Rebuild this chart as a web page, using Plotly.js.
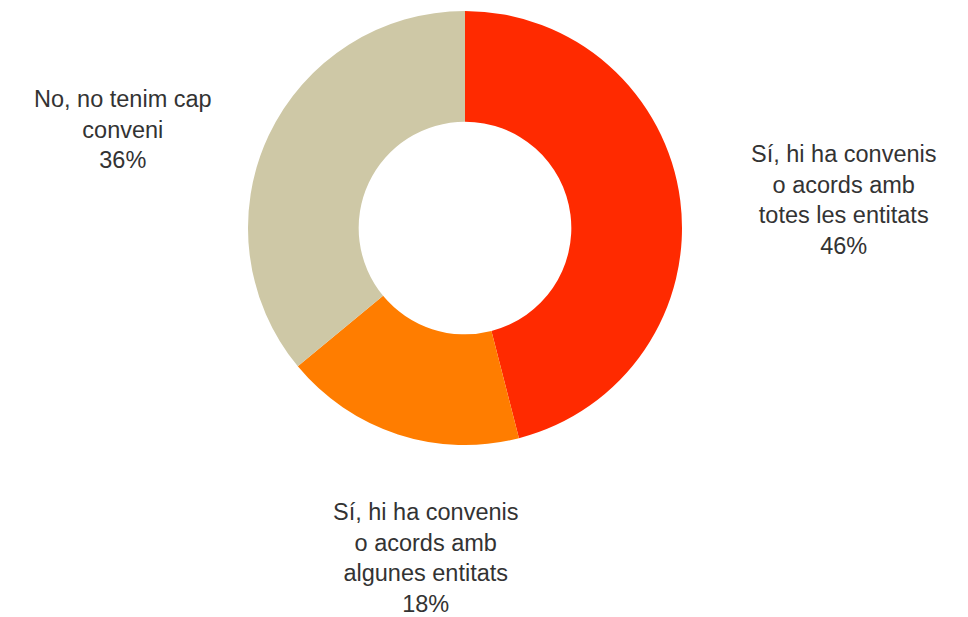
<!DOCTYPE html>
<html><head><meta charset="utf-8">
<script src="https://cdn.plot.ly/plotly-3.0.1.min.js"></script>
<style>html,body{margin:0;padding:0;background:#fff}#chart{width:968px;height:617px}</style>
</head><body><div id="chart"></div>
<script>
var categories = ["Sí, hi ha convenis<br>o acords amb<br>totes les entitats", "Sí, hi ha convenis<br>o acords amb<br>algunes entitats", "No, no tenim cap<br>conveni"];
var values = [46, 18, 36];
var colors = ["#FF2A00", "#FF7D00", "#CEC8A6"];
var labelPos = [[844, 200], [426, 558], [123, 130]];

var W = 968, H = 617;
var cx = 465, cy = 228, r = 217;
var annotations = categories.map(function(c, i) {
  return {
    text: c + "<br>" + values[i] + "%",
    x: labelPos[i][0] / W, y: 1 - labelPos[i][1] / H,
    xref: "paper", yref: "paper", xanchor: "center", yanchor: "middle",
    showarrow: false, align: "center",
    font: {family: "Liberation Sans, Arial, sans-serif", size: 23.5, color: "#333333"}
  };
});
var trace = {
  type: "pie", labels: categories, values: values, hole: 0.49,
  sort: false, direction: "clockwise", rotation: 0,
  marker: {colors: colors, line: {width: 0}},
  textinfo: "none", hoverinfo: "label+percent",
  domain: {x: [(cx - r) / W, (cx + r) / W], y: [1 - (cy + r) / H, 1 - (cy - r) / H]}
};
Plotly.newPlot("chart", [trace], {
  width: W, height: H, margin: {l: 0, r: 0, t: 0, b: 0},
  showlegend: false, paper_bgcolor: "#fff", annotations: annotations
}, {displayModeBar: false});
</script></body></html>
